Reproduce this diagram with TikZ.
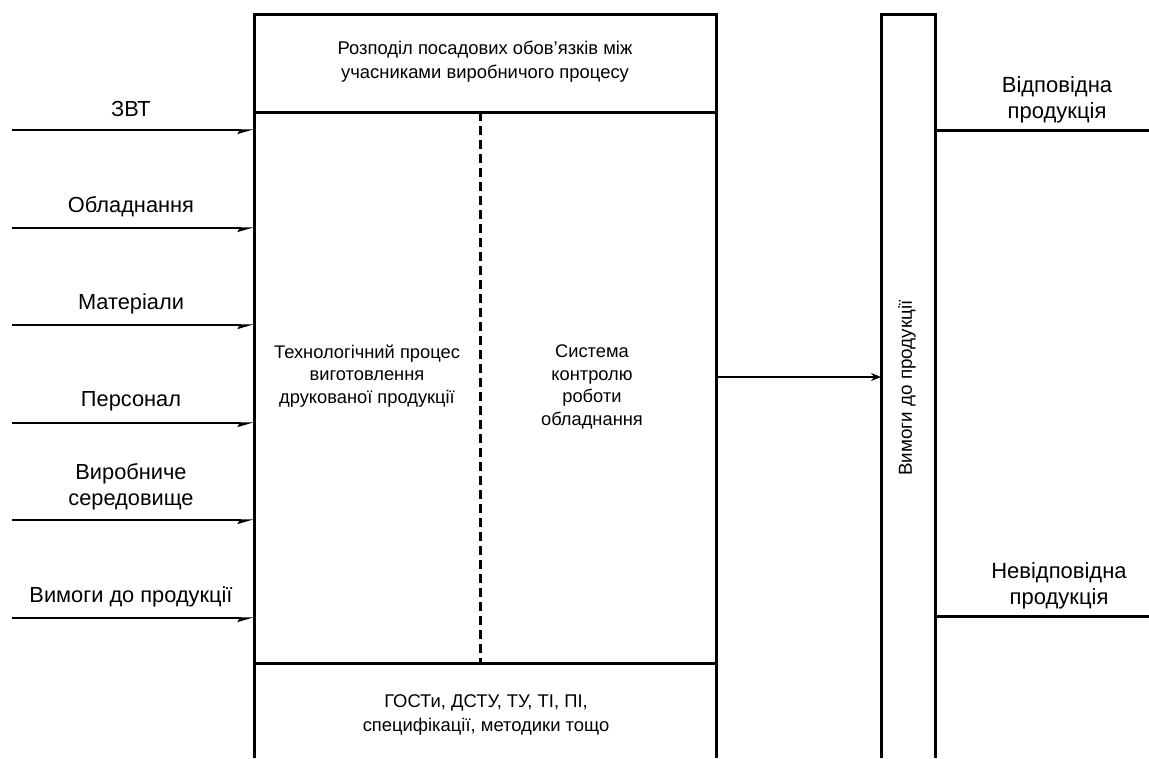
\documentclass[tikz,border=0pt]{standalone}
\usepackage{fontspec}
\setmainfont{Liberation Sans}
\usetikzlibrary{arrows.meta}
\begin{document}
\begin{tikzpicture}[x=1pt,y=-1pt,
  frame/.style={line width=3pt},
  divline/.style={line width=3pt,dash pattern=on 9pt off 5pt},
  inarrow/.style={line width=1.4pt,-{Stealth[harpoon,swap,length=14pt,width=8pt,inset=2pt]}},
  midarrow/.style={line width=2.8pt,-{Stealth[length=10pt,width=8pt]}},
  outline/.style={line width=3pt},
  lbl/.style={font=\fontsize{21.8}{26.5}\selectfont, align=center, inner sep=0pt},
  boxtxt/.style={font=\fontsize{18.3}{22.5}\selectfont, align=center, inner sep=0pt},
  bandtxt/.style={font=\fontsize{18.4}{24}\selectfont, align=center, inner sep=0pt}]
\useasboundingbox (0,0) rectangle (1149,758);

% main block
\draw[frame] (254,758) -- (254,14) -- (716,14) -- (716,758);
\draw[frame] (254,112) -- (716,112);
\draw[frame] (254,663) -- (716,663);
\draw[divline] (480,112) -- (480,663);

% right column
\draw[frame] (881,758) -- (881,14) -- (935,14) -- (935,758);

% texts in main block
\node[bandtxt] (dist) at (485,62) {Розподіл посадових обов’язків між\\учасниками виробничого процесу};
\node[boxtxt] (tech) at (367,376) {Технологічний процес\\виготовлення\\друкованої продукції};
\node[boxtxt] (ctrl) at (592,387) {Система\\контролю\\роботи\\обладнання};
\node[bandtxt] (std) at (486,715) {ГОСТи, ДСТУ, ТУ, ТІ, ПІ,\\специфікації, методики тощо};

% vertical label
\node[boxtxt, font=\fontsize{18.8}{22}\selectfont, rotate=90] (req) at (907,388) {Вимоги до продукції};

% input arrows
\foreach \i/\y in {1/130,2/228,3/325,4/423,5/520,6/618}{
  \coordinate (s\i) at (12,\y);
  \coordinate (e\i) at (254,\y);
  \draw[inarrow] (s\i) -- (e\i);
}
\node[lbl] (l1) at (131,109) {ЗВТ};
\node[lbl] (l2) at (131,207) {Обладнання};
\node[lbl] (l3) at (131,304) {Матеріали};
\node[lbl] (l4) at (131,401) {Персонал};
\node[lbl] (l5) at (131,487) {Виробниче\\середовище};
\node[lbl] (l6) at (131,597) {Вимоги до продукції};

% middle arrow
\coordinate (mo) at (716,377);
\coordinate (mi) at (881,377);
\draw[midarrow] (mo) -- (mi);

% outputs
\coordinate (o1s) at (935,130);
\coordinate (o1e) at (1149,130);
\coordinate (o2s) at (935,616);
\coordinate (o2e) at (1149,616);
\draw[outline] (o1s) -- (o1e);
\draw[outline] (o2s) -- (o2e);
\node[lbl, font=\fontsize{22}{26}\selectfont] (ok) at (1057,100) {Відповідна\\продукція};
\node[lbl, font=\fontsize{22}{26}\selectfont] (nok) at (1059,586) {Невідповідна\\продукція};
\end{tikzpicture}
\end{document}
